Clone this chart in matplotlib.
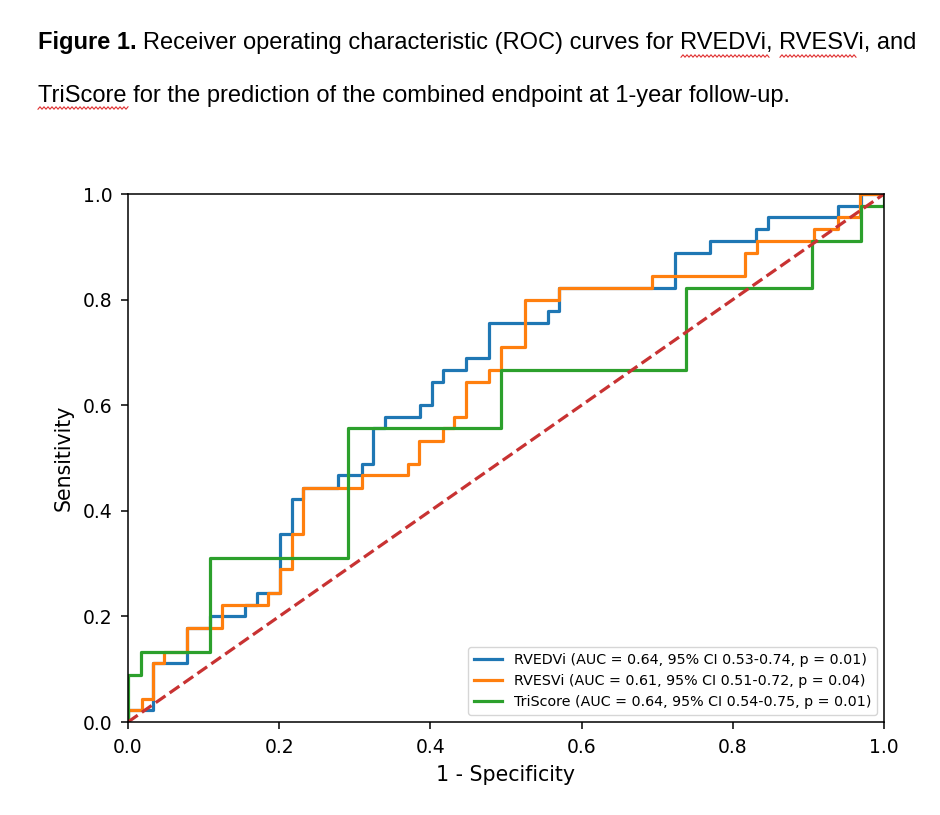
import matplotlib
matplotlib.use("Agg")
import matplotlib.pyplot as plt
import numpy as np

# ROC curve corner points
rvedvi_fpr = [0, 0, 0.033, 0.033, 0.078, 0.078, 0.109, 0.109, 0.155, 0.155,
              0.171, 0.171, 0.201, 0.201, 0.2165, 0.2165, 0.232, 0.232, 0.278, 0.278,
              0.309, 0.309, 0.3245, 0.3245, 0.34, 0.34, 0.386, 0.386, 0.4017, 0.4017,
              0.417, 0.417, 0.447, 0.447, 0.478, 0.478, 0.555, 0.555, 0.5706, 0.5706,
              0.7235, 0.7235, 0.77, 0.77, 0.8307, 0.8307, 0.847, 0.847, 0.939, 0.939,
              0.97, 0.97, 1.0]
rvedvi_tpr = [0, 0.022, 0.022, 0.111, 0.111, 0.178, 0.178, 0.2, 0.2, 0.222,
              0.222, 0.244, 0.244, 0.356, 0.356, 0.422, 0.422, 0.444, 0.444, 0.467,
              0.467, 0.489, 0.489, 0.556, 0.556, 0.578, 0.578, 0.6, 0.6, 0.644,
              0.644, 0.667, 0.667, 0.689, 0.689, 0.756, 0.756, 0.778, 0.778, 0.822,
              0.822, 0.889, 0.889, 0.911, 0.911, 0.933, 0.933, 0.956, 0.956, 0.978,
              0.978, 1.0, 1.0]

rvesvi_fpr = [0, 0, 0.0185, 0.0185, 0.033, 0.033, 0.048, 0.048, 0.078, 0.078, 0.124,
              0.124, 0.1856, 0.1856, 0.201, 0.201, 0.2165, 0.2165, 0.232, 0.232, 0.309,
              0.309, 0.37, 0.37, 0.385, 0.385, 0.417, 0.417, 0.4316, 0.4316, 0.447,
              0.447, 0.478, 0.478, 0.493, 0.493, 0.525, 0.525, 0.5706, 0.5706, 0.6936,
              0.6936, 0.816, 0.816, 0.8316, 0.8316, 0.908, 0.908, 0.939, 0.939, 0.968,
              0.968, 1.0]
rvesvi_tpr = [0, 0.022, 0.022, 0.044, 0.044, 0.111, 0.111, 0.133, 0.133, 0.178, 0.178,
              0.222, 0.222, 0.244, 0.244, 0.289, 0.289, 0.356, 0.356, 0.444, 0.444,
              0.467, 0.467, 0.489, 0.489, 0.533, 0.533, 0.556, 0.556, 0.578, 0.578,
              0.644, 0.644, 0.667, 0.667, 0.711, 0.711, 0.8, 0.8, 0.822, 0.822,
              0.844, 0.844, 0.889, 0.889, 0.911, 0.911, 0.933, 0.933, 0.956, 0.956,
              1.0, 1.0]

triscore_fpr = [0, 0, 0.0172, 0.0172, 0.109, 0.109, 0.291, 0.291, 0.493, 0.493, 0.738,
                0.738, 0.905, 0.905, 0.97, 0.97, 1.0, 1.0]
triscore_tpr = [0, 0.089, 0.089, 0.133, 0.133, 0.311, 0.311, 0.556, 0.556, 0.667, 0.667,
                0.822, 0.822, 0.911, 0.911, 0.978, 0.978, 1.0]

labels = ["RVEDVi (AUC = 0.64, 95% CI 0.53-0.74, p = 0.01)",
          "RVESVi (AUC = 0.61, 95% CI 0.51-0.72, p = 0.04)",
          "TriScore (AUC = 0.64, 95% CI 0.54-0.75, p = 0.01)"]
ticks = [0.0, 0.2, 0.4, 0.6, 0.8, 1.0]

W, H = 940, 815
fig = plt.figure(figsize=(W / 100, H / 100), dpi=100)
ax = fig.add_axes([128 / W, 1 - 722 / H, 756 / W, 528 / H])

lw = 2.3
ax.plot(rvedvi_fpr, rvedvi_tpr, color="#1f77b4", lw=lw, label=labels[0])
ax.plot(rvesvi_fpr, rvesvi_tpr, color="#ff7f0e", lw=lw, label=labels[1])
ax.plot(triscore_fpr, triscore_tpr, color="#2ca02c", lw=lw, label=labels[2])
ax.plot([0, 1], [0, 1], "--", color="#c83232", lw=lw)

ax.set_xlim(0, 1)
ax.set_ylim(0, 1)
ax.set_xticks(ticks)
ax.set_yticks(ticks)
ax.tick_params(labelsize=13.5, length=5, width=1.1)
ax.tick_params(axis="x", pad=6.5)
ax.tick_params(axis="y", pad=6)
for s in ax.spines.values():
    s.set_linewidth(1.1)
ax.set_xlabel("1 - Specificity", fontsize=14.8, labelpad=6)
ax.set_ylabel("Sensitivity", fontsize=14.8, labelpad=7)
ax.legend(loc="lower right", fontsize=10.3)

# caption above the chart (Word document style)
cap = dict(family="Liberation Sans", fontsize=17, va="baseline", ha="left")
t1 = fig.text(38 / W, 1 - 49 / H, "Figure 1.", weight="bold", **cap)
fig.canvas.draw()
bb = t1.get_window_extent()
space = 0.278 * 17 * 100 / 72
fig.text((bb.x1 + space) / W, 1 - 49 / H,
         "Receiver operating characteristic (ROC) curves for RVEDVi, RVESVi, and", **cap)
fig.text(38 / W, 1 - 102 / H,
         "TriScore for the prediction of the combined endpoint at 1-year follow-up.", **cap)

# spell-check squiggles under the abbreviations
def squiggle(x0, x1, y):
    xs = np.arange(x0, x1 + 1, 2.0)
    ys = y + np.where(np.arange(len(xs)) % 2 == 0, 1.2, -1.2)
    fig.add_artist(plt.Line2D(xs / W, 1 - ys / H, color="#e03030", lw=0.8))

squiggle(681, 770, 56)
squiggle(780, 856, 56)
squiggle(38, 128, 108)

fig.savefig("out.png", dpi=100)
